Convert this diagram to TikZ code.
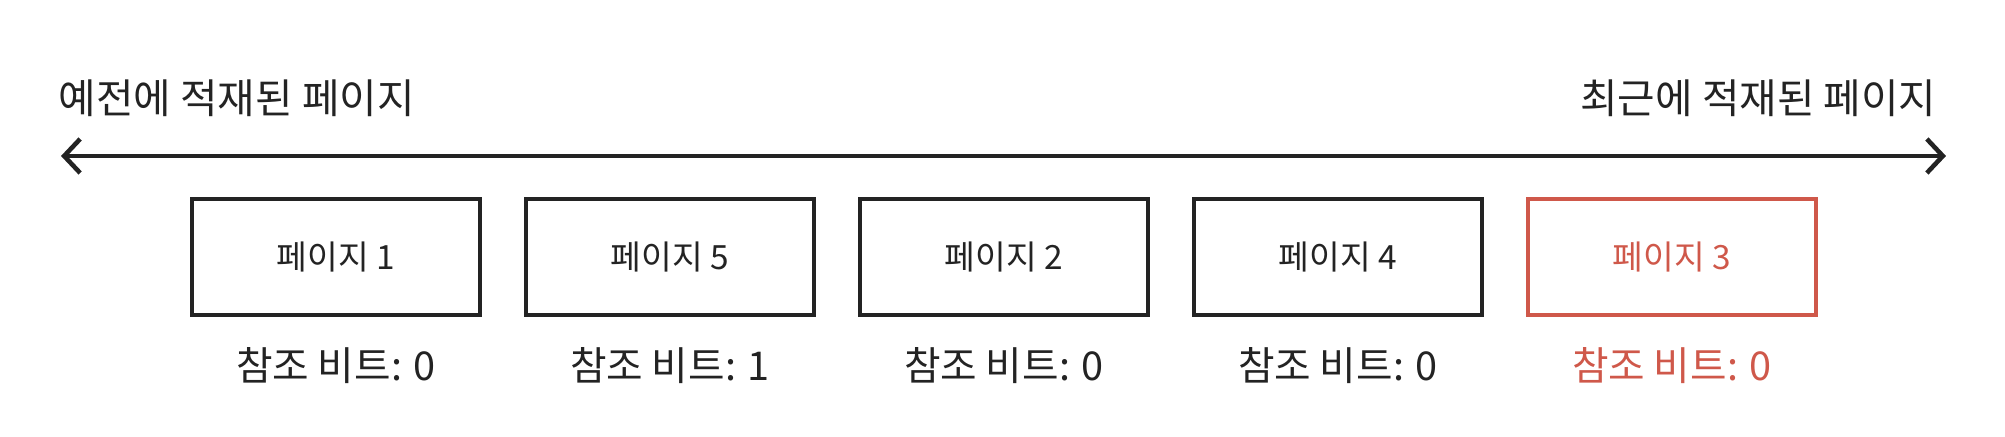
\documentclass[tikz,border=0pt]{standalone}
\usepackage{fontspec}
\setmainfont{Noto Sans CJK KR}
\usepackage{xcolor}
\usetikzlibrary{positioning,arrows.meta}
\definecolor{hotred}{RGB}{207,88,74}
\definecolor{ink}{RGB}{35,35,35}

\begin{document}
\begin{tikzpicture}[
    page/.style={draw=ink, line width=1pt, minimum width=2.88cm, minimum height=1.16cm, font=\fontsize{9.5}{11}\selectfont, text=ink},
    bit/.style={font=\fontsize{11.3}{13}\selectfont, text=ink, inner sep=0pt},
    recent/.style={draw=hotred, text=hotred},
    timeline/.style={draw=ink, line width=1.3pt, {Straight Barb[length=1.6mm, width=3.4mm]}-{Straight Barb[length=1.6mm, width=3.4mm]}},
    edge/.style={font=\fontsize{11.6}{13}\selectfont, text=ink, inner sep=0pt}
]
\useasboundingbox (0,0) rectangle (20.05,4.37);

% Time axis
\coordinate (old) at (0.61,2.81);
\coordinate (new) at (19.46,2.81);
\draw[timeline] (old) -- (new);

\node[edge, anchor=west] (oldtxt) at (0.58,3.39) {예전에 적재된 페이지};
\node[edge, anchor=east] (newtxt) at (19.37,3.39) {최근에 적재된 페이지};

% Pages in load order
\node[page] (p1) at (3.36,1.80) {페이지 1};
\node[page] (p5) at (6.70,1.80) {페이지 5};
\node[page] (p2) at (10.04,1.80) {페이지 2};
\node[page] (p4) at (13.38,1.80) {페이지 4};
\node[page, recent] (p3) at (16.72,1.80) {페이지 3};

% Reference bits
\node[bit, below=3mm of p1] (b1) {참조 비트: 0};
\node[bit, below=3mm of p5] (b5) {참조 비트: 1};
\node[bit, below=3mm of p2] (b2) {참조 비트: 0};
\node[bit, below=3mm of p4] (b4) {참조 비트: 0};
\node[bit, below=3mm of p3, text=hotred] (b3) {참조 비트: 0};

\end{tikzpicture}
\end{document}
